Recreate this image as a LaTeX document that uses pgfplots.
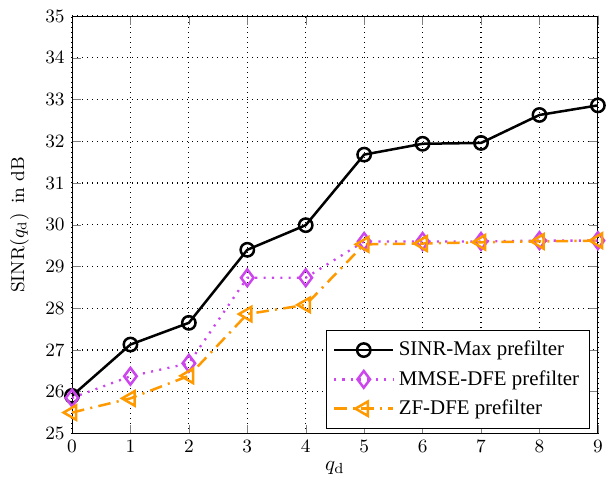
\documentclass[border=0pt]{standalone}
\usepackage{fontspec}
\newfontfamily\legfont{Liberation Serif}
\usepackage{pgfplots}
\pgfplotsset{compat=1.18}
\definecolor{mmse}{rgb}{0.8,0.27,0.93}
\definecolor{zf}{rgb}{1,0.6,0}
\begin{document}
\begin{tikzpicture}
\begin{axis}[
  scale only axis, width=252pt, height=200pt,
  at={(0,0)}, anchor=south west,
  xmin=0, xmax=9, ymin=25, ymax=35,
  xtick={0,...,9}, ytick={25,...,35},
  grid=major, grid style={dotted, black, line width=0.6pt},
  tick align=inside, tick pos=both,
  xlabel={$q_\mathrm{d}$}, ylabel={SINR$(q_\mathrm{d})$\, in dB},
  every axis x label/.append style={at={(axis description cs:0.5,-0.083)}, anchor=center, font=\normalsize},
  every axis y label/.append style={at={(axis description cs:-0.1,0.5)}, anchor=center, font=\small},
  ticklabel style={font=\small},
  legend style={at={(0.985,0.012)}, anchor=south east, font=\legfont\normalsize, row sep=1.5pt, inner sep=3pt},
  legend cell align=left,
  legend image code/.code={
    \draw[mark repeat=2,mark phase=2,#1] plot coordinates {(0cm,0cm) (0.5cm,0cm) (1cm,0cm)};
  },
]
\addplot[black, line width=1.2pt, mark=o, mark size=3.2pt, mark options={solid, line width=1.2pt}] coordinates {
(0,25.9)(1,27.13)(2,27.65)(3,29.4)(4,29.99)(5,31.68)(6,31.94)(7,31.96)(8,32.63)(9,32.86)};
\addlegendentry{SINR-Max prefilter\hspace{12pt}}
\addplot[mmse, line width=1.1pt, dash pattern=on 1pt off 3pt, mark=diamond, mark size=4pt, mark options={solid, line width=1.2pt}] coordinates {
(0,25.85)(1,26.37)(2,26.68)(3,28.73)(4,28.73)(5,29.6)(6,29.6)(7,29.6)(8,29.62)(9,29.62)};
\addlegendentry{MMSE-DFE prefilter}
\addplot[zf, line width=1.2pt, dash pattern=on 6pt off 3pt on 1pt off 3pt, mark=triangle, mark size=4pt, mark options={solid, line width=1.2pt, rotate=90}] coordinates {
(0,25.5)(1,25.84)(2,26.38)(3,27.86)(4,28.08)(5,29.53)(6,29.55)(7,29.58)(8,29.6)(9,29.62)};
\addlegendentry{ZF-DFE prefilter}
\end{axis}
\pgfresetboundingbox
\path (-34.5pt,-24pt) rectangle (260.2pt,207.7pt);
\end{tikzpicture}
\end{document}
